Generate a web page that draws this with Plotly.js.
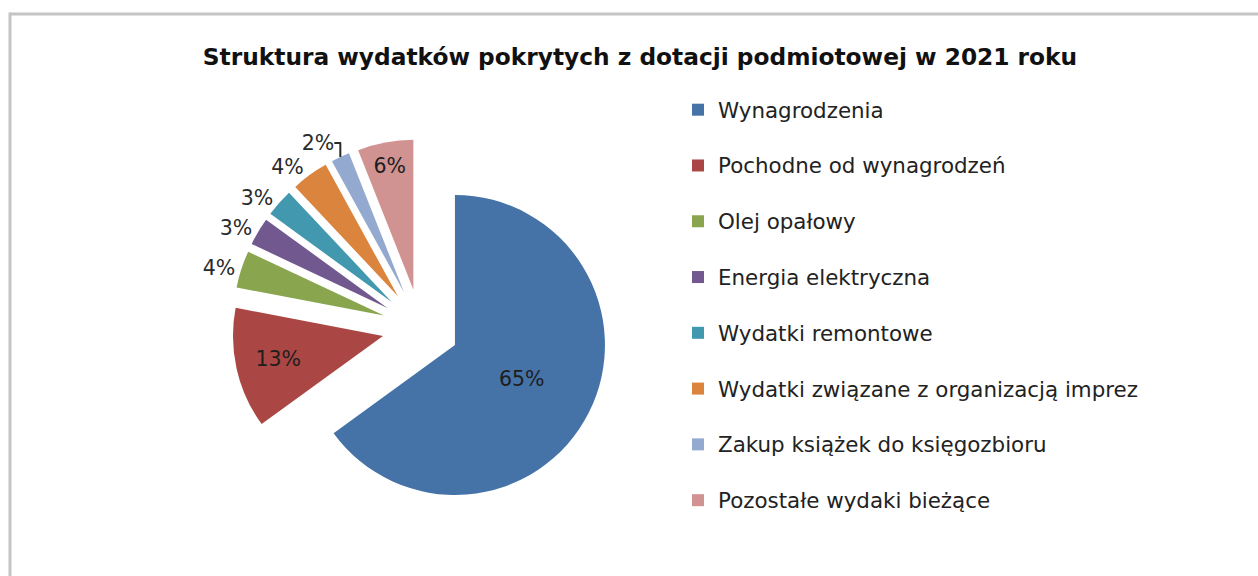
<!DOCTYPE html>
<html>
<head>
<meta charset="utf-8">
<script src="https://cdn.plot.ly/plotly-3.0.1.min.js"></script>
<style>
  html, body { margin: 0; padding: 0; background: #ffffff; }
  #chart { width: 1258px; height: 576px; }
</style>
</head>
<body>
<div id="chart"></div>
<script>
var categories = [
  "Wynagrodzenia",
  "Pochodne od wynagrodzeń",
  "Olej opałowy",
  "Energia elektryczna",
  "Wydatki remontowe",
  "Wydatki związane z organizacją imprez",
  "Zakup książek do księgozbioru",
  "Pozostałe wydaki bieżące"
];
var shares = [65, 13, 4, 3, 3, 4, 2, 6];
var sliceColors = ["#4572A7", "#AA4643", "#89A54E", "#71588F", "#4198AF", "#DB843D", "#93A9CF", "#D19392"];
var labelPositions = ["inside", "inside", "outside", "outside", "outside", "outside", "outside", "inside"];
var chartTitle = "Struktura wydatków pokrytych z dotacji podmiotowej w 2021 roku";

var W = 1258, H = 576;
function px(x) { return x / W; }
function py(y) { return 1 - y / H; }

var trace = {
  type: "pie",
  labels: categories.map(function (c) {
    return '<span style="font-size:21.4px">' + c + '</span><br>&nbsp;';
  }),
  values: shares,
  sort: false,
  direction: "clockwise",
  rotation: 0,
  pull: shares.map(function () { return 0.257; }),
  marker: { colors: sliceColors, line: { width: 0 } },
  textinfo: "percent",
  texttemplate: "%{percent:.0%}",
  textposition: labelPositions,
  insidetextorientation: "horizontal",
  insidetextfont: { family: "DejaVu Sans", size: 20.5, color: "#1e1e1e" },
  outsidetextfont: { family: "DejaVu Sans", size: 20.5, color: "#2a2a2a" },
  hoverinfo: "percent",
  domain: { x: [px(232.05), px(609.15)], y: [py(516.05), py(138.95)] },
  showlegend: true
};

var layout = {
  width: W,
  height: H,
  margin: { l: 0, r: 0, t: 0, b: 0 },
  paper_bgcolor: "#ffffff",
  plot_bgcolor: "#ffffff",
  title: {
    text: "<b>" + chartTitle + "</b>",
    x: px(640), xanchor: "center",
    y: py(57), yanchor: "middle",
    font: { family: "DejaVu Sans", size: 23.3, color: "#111111" }
  },
  legend: {
    x: px(678), xanchor: "left",
    y: py(90), yanchor: "top",
    font: { family: "DejaVu Sans", size: 20.3, color: "#222222" },
    valign: "top",
    bgcolor: "rgba(0,0,0,0)",
    borderwidth: 0,
    traceorder: "normal"
  },
  shapes: [
    { type: "line", xref: "paper", yref: "paper", x0: px(10), x1: 1, y0: py(14), y1: py(14),
      line: { color: "#c4c4c4", width: 3 } },
    { type: "line", xref: "paper", yref: "paper", x0: px(10), x1: px(10), y0: py(12.5), y1: 0,
      line: { color: "#c4c4c4", width: 3 } }
  ]
};

Plotly.newPlot("chart", [trace], layout, { displayModeBar: false, staticPlot: true });
</script>
</body>
</html>
